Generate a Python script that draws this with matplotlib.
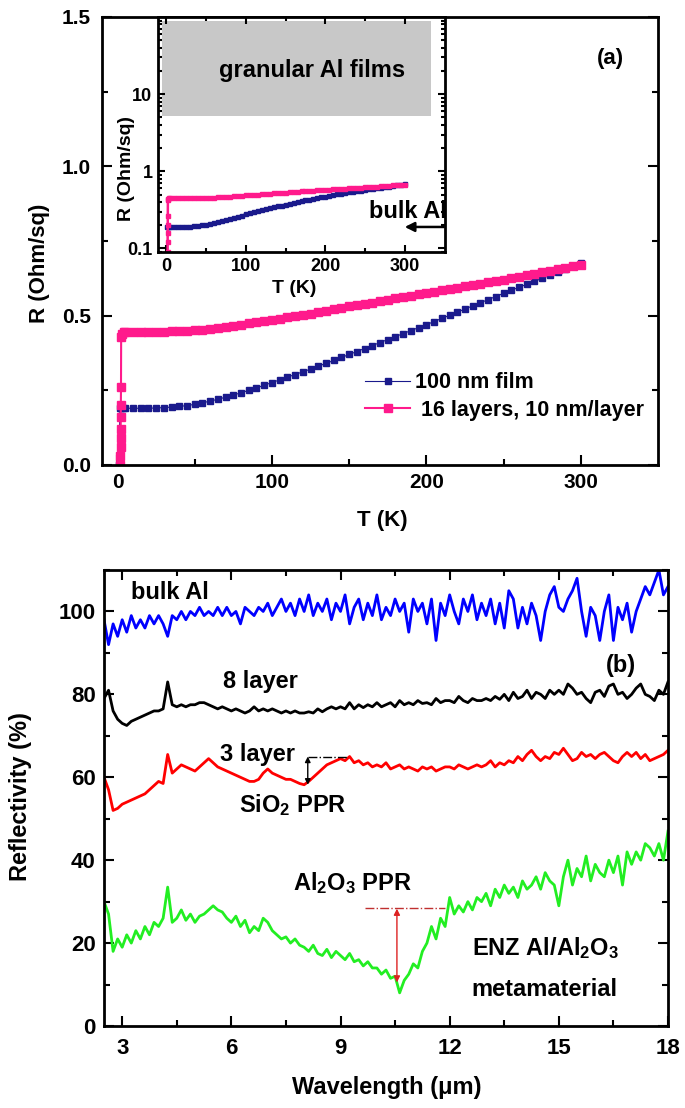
import matplotlib
matplotlib.use("Agg")
import matplotlib.pyplot as plt
from matplotlib.patches import Rectangle
from matplotlib.ticker import MultipleLocator, LogLocator, NullFormatter, FixedLocator

plt.rcParams['font.family'] = ['Liberation Sans', 'DejaVu Sans']
plt.rcParams['font.weight'] = 'bold'
plt.rcParams['mathtext.fontset'] = 'custom'
plt.rcParams['mathtext.rm'] = 'Liberation Sans:bold'
plt.rcParams['mathtext.it'] = 'Liberation Sans:bold'
plt.rcParams['mathtext.bf'] = 'Liberation Sans:bold'
plt.rcParams['mathtext.default'] = 'rm'

# ---------------- panel (a) data ----------------
T_film = [1.0, 1.6, 2.5, 3.5,
          5, 10, 15, 20, 25, 30, 35, 40, 45, 50, 55, 60, 65, 70, 75, 80, 85, 90, 95, 100,
          105, 110, 115, 120, 125, 130, 135, 140, 145, 150, 155, 160, 165, 170, 175, 180,
          185, 190, 195, 200, 205, 210, 215, 220, 225, 230, 235, 240, 245, 250, 255, 260,
          265, 270, 275, 280, 285, 290, 295, 300]
R_film = [0.0, 0.19, 0.19, 0.19,
          0.190, 0.190, 0.190, 0.190, 0.191, 0.192, 0.194, 0.196, 0.199, 0.203, 0.208, 0.214,
          0.220, 0.227, 0.234, 0.242, 0.250, 0.258, 0.267, 0.276, 0.285, 0.294, 0.303, 0.312,
          0.321, 0.331, 0.340, 0.350, 0.360, 0.370, 0.380, 0.390, 0.400, 0.410, 0.420, 0.430,
          0.440, 0.450, 0.460, 0.470, 0.480, 0.491, 0.501, 0.512, 0.522, 0.533, 0.543, 0.554,
          0.564, 0.575, 0.585, 0.595, 0.605, 0.615, 0.625, 0.635, 0.645, 0.655, 0.665, 0.675]

T_ml = [1.9, 1.95, 2.0, 2.05, 2.1, 2.15, 2.2, 2.3, 2.4, 3.0, 4.0,
        5, 10, 15, 20, 25, 30, 35, 40, 45, 50, 55, 60, 65, 70, 75, 80, 85, 90, 95, 100,
        105, 110, 115, 120, 125, 130, 135, 140, 145, 150, 155, 160, 165, 170, 175, 180,
        185, 190, 195, 200, 205, 210, 215, 220, 225, 230, 235, 240, 245, 250, 255, 260,
        265, 270, 275, 280, 285, 290, 295, 300]
R_ml = [0.0, 0.03, 0.06, 0.09, 0.12, 0.16, 0.20, 0.26, 0.43, 0.44, 0.445,
        0.445, 0.445, 0.445, 0.445, 0.445, 0.445, 0.447, 0.448, 0.449, 0.451, 0.453, 0.456,
        0.459, 0.462, 0.466, 0.470, 0.474, 0.478, 0.482, 0.486, 0.490, 0.494, 0.498, 0.502,
        0.507, 0.511, 0.516, 0.521, 0.526, 0.531, 0.535, 0.540, 0.544, 0.549, 0.553, 0.558,
        0.562, 0.567, 0.571, 0.576, 0.580, 0.585, 0.589, 0.594, 0.598, 0.603, 0.607, 0.612,
        0.616, 0.621, 0.626, 0.630, 0.635, 0.640, 0.645, 0.650, 0.655, 0.660, 0.665, 0.670]

label_film = "100 nm film"
label_ml = " 16 layers, 10 nm/layer"

# ---------------- panel (b) data ----------------
wavelength = [2.5, 2.625, 2.75, 2.875,
    3.0, 3.125, 3.25, 3.375, 3.5, 3.625, 3.75, 3.875,
    4.0, 4.125, 4.25, 4.375, 4.5, 4.625, 4.75, 4.875,
    5.0, 5.125, 5.25, 5.375, 5.5, 5.625, 5.75, 5.875,
    6.0, 6.125, 6.25, 6.375, 6.5, 6.625, 6.75, 6.875,
    7.0, 7.125, 7.25, 7.375, 7.5, 7.625, 7.75, 7.875,
    8.0, 8.125, 8.25, 8.375, 8.5, 8.625, 8.75, 8.875,
    9.0, 9.125, 9.25, 9.375, 9.5, 9.625, 9.75, 9.875,
    10.0, 10.125, 10.25, 10.375, 10.5, 10.625, 10.75, 10.875,
    11.0, 11.125, 11.25, 11.375, 11.5, 11.625, 11.75, 11.875,
    12.0, 12.125, 12.25, 12.375, 12.5, 12.625, 12.75, 12.875,
    13.0, 13.125, 13.25, 13.375, 13.5, 13.625, 13.75, 13.875,
    14.0, 14.125, 14.25, 14.375, 14.5, 14.625, 14.75, 14.875,
    15.0, 15.125, 15.25, 15.375, 15.5, 15.625, 15.75, 15.875,
    16.0, 16.125, 16.25, 16.375, 16.5, 16.625, 16.75, 16.875,
    17.0, 17.125, 17.25, 17.375, 17.5, 17.625, 17.75, 17.875,
    18.0]

refl_bulk = [98, 92, 97, 94,
    98, 95, 99, 96, 98, 96, 99, 97,
    99, 97, 94, 99, 98, 100, 98, 100,
    99, 101, 99, 100, 99, 101, 99, 101,
    99, 100, 97, 101, 100, 99, 101, 100,
    102, 99, 101, 103, 100, 102, 99, 103,
    100, 104, 99, 102, 100, 103, 98, 102,
    100, 104, 97, 101, 103, 98, 102, 99,
    104, 98, 101, 99, 103, 100, 102, 95,
    103, 100, 102, 97, 103, 93, 102, 99,
    104, 100, 97, 103, 100, 104, 98, 102,
    99, 103, 97, 102, 96, 105, 103, 96,
    101, 97, 102, 99, 93, 100, 104, 106,
    101, 100, 103, 105, 108, 100, 94, 101,
    99, 93, 100, 104, 93, 101, 98, 102,
    95, 100, 103, 106, 104, 107, 110, 104,
    106]

refl_8layer = [79, 81, 76, 74,
    73, 72.5, 73.5, 74, 74.5, 75, 75.5, 76,
    76, 76.5, 83, 77.5, 77, 77.5, 77, 77.5,
    77.5, 78, 78, 77.5, 77, 76.5, 77, 76.5,
    76, 76.5, 76, 75.5, 76, 77, 76, 76.5,
    76, 76.5, 76, 75.5, 76, 75.5, 76, 75.5,
    75.5, 75.8, 75.5, 76.5, 75.8, 76.5, 77, 76.5,
    77, 76.5, 78, 76.5, 77.5, 76.8, 77.5, 77,
    78, 77, 77.5, 78, 77, 78.5, 77.5, 78,
    77.5, 78.5, 77.8, 78, 77.5, 79, 78, 78.5,
    78.5, 78, 79.5, 78.5, 78, 79, 78.5, 78.5,
    79, 78.5, 79.5, 78.8, 80, 78.5, 80.5, 79,
    79.5, 81, 79, 80.5, 80, 79, 81, 80,
    81, 80, 82.5, 81.5, 80, 80.5, 79, 78,
    80.5, 81, 79.5, 82, 82.5, 80, 80.5, 79,
    80, 81.5, 82.5, 80, 79.5, 78.5, 81, 80,
    83]

refl_3layer = [60, 57, 52, 52.5,
    53.5, 54, 54.5, 55, 55.5, 56, 57, 58,
    59, 58.5, 65.5, 61, 62, 63, 62.5, 62,
    61.5, 62.5, 63.5, 64.5, 63.5, 62.5, 62, 61.5,
    61, 60.5, 60, 59.5, 59, 59, 59.5, 61,
    62, 61, 60.5, 60, 59.5, 59.5, 59, 58.5,
    58.2, 59, 60, 61, 62, 63, 63.5, 64,
    64.5, 64, 65, 63.5, 64, 63, 63.5, 62.5,
    63, 62.5, 63.5, 62, 62.5, 63, 62, 62.5,
    62, 61.5, 62.5, 62, 62.5, 61.5, 62, 62.5,
    62.5, 62, 63, 62.5, 62, 62.5, 63, 62.5,
    63, 64, 62.5, 63.5, 63, 64, 63.5, 65,
    64, 65.5, 66.5, 65, 64, 65, 64.5, 66,
    65.5, 67, 65.5, 64, 64.5, 66, 65, 65.5,
    64.5, 65.5, 66, 65, 64, 63.5, 65, 66,
    65, 66, 64.5, 65.5, 64, 64.5, 65, 65.5,
    66.5]

refl_enz = [30, 27, 18, 21,
    19, 22, 20, 23, 21, 24, 22, 25,
    24, 26, 33.5, 25, 26, 28, 25.5, 27,
    25, 26.5, 27, 28, 29, 28, 27.5, 26,
    25, 26.5, 24, 25.5, 22.5, 24, 23, 26,
    25, 23, 22, 21, 21.5, 20, 21, 19.5,
    19, 18, 19.5, 17.5, 17, 18.5, 16.5, 18,
    17, 16, 17.5, 15.5, 16, 14.5, 15.5, 14,
    14, 12.5, 13.5, 11.5, 12, 8, 11, 12.5,
    15, 14, 18, 20, 24, 21, 26, 24,
    31, 27, 29, 27.5, 30, 28, 31, 30,
    32, 29, 33, 31, 34, 32, 33.5, 31,
    35, 33, 34, 36, 33, 37, 35, 34,
    29, 36, 40, 34, 38, 36, 41, 35,
    39, 37, 36, 40, 37, 41, 34, 42,
    39, 42, 40, 44, 43, 41, 44, 40,
    47]

# ---------------- figure ----------------
W, H = 685, 1108
fig = plt.figure(figsize=(W / 100, H / 100), dpi=100)

def rect(l, r, t, b):
    return [l / W, 1 - b / H, (r - l) / W, (b - t) / H]

navy = '#1a1a8c'
pink = '#ff1a8c'

def style_axes(ax, labelsize, top=False, right=True):
    for s in ax.spines.values():
        s.set_linewidth(2)
    ax.tick_params(which='both', direction='in', width=1.5, top=top, right=right,
                   labelsize=labelsize)
    ax.tick_params(which='major', length=7)
    ax.tick_params(which='minor', length=4)
    for lab in ax.get_xticklabels() + ax.get_yticklabels():
        lab.set_fontweight('bold')

# ---- panel (a) main ----
axa = fig.add_axes(rect(102, 658, 17, 465))
axa.plot(T_film, R_film, color=navy, lw=0.8, marker='s', ms=4.5, mec=navy, mfc=navy,
         label=label_film)
axa.plot(T_ml, R_ml, color=pink, lw=1.5, marker='s', ms=5.5, mec=pink, mfc=pink,
         label=label_ml)
axa.set_xlim(-10, 350)
axa.set_ylim(0, 1.5)
axa.xaxis.set_major_locator(FixedLocator([0, 100, 200, 300]))
axa.xaxis.set_minor_locator(FixedLocator([50, 150, 250]))
axa.yaxis.set_major_locator(MultipleLocator(0.5))
axa.yaxis.set_minor_locator(MultipleLocator(0.25))
axa.yaxis.set_major_formatter(matplotlib.ticker.FormatStrFormatter('%.1f'))
style_axes(axa, 15)
axa.tick_params(axis='y', pad=8)
axa.tick_params(axis='x', pad=6)
axa.set_xlabel('T (K)', fontsize=16, fontweight='bold')
axa.xaxis.set_label_coords(0.504, -0.1)
axa.set_ylabel('R (Ohm/sq)', fontsize=16, fontweight='bold')
axa.yaxis.set_label_coords(-0.0935, 0.451)
axa.text(319, 1.36, '(a)', fontsize=16, fontweight='bold', ha='center', va='center')
leg = axa.legend(loc='upper left', bbox_to_anchor=(0.473, 0.207), frameon=False,
                 prop={'size': 15.5, 'weight': 'bold'}, borderpad=0, borderaxespad=0,
                 handlelength=2.1, handletextpad=0.2, labelspacing=0.3, markerscale=1.0)

# ---- panel (a) inset ----
axi = fig.add_axes(rect(158, 445, 17, 252))
axi.add_patch(Rectangle((-5, 5.2), 337, 89 - 5.2, facecolor='#c8c8c8', edgecolor='none',
                        zorder=0))
axi.plot(T_film, R_film, color=navy, lw=1.8, marker='s', ms=2.5, mec=navy, mfc=navy)
axi.plot(T_ml, R_ml, color=pink, lw=1.8, marker='s', ms=2.5, mec=pink, mfc=pink)
axi.set_yscale('log', nonpositive='mask')
axi.set_xlim(-10, 350)
axi.set_ylim(0.09, 100)
axi.xaxis.set_major_locator(FixedLocator([0, 100, 200, 300]))
axi.xaxis.set_minor_locator(FixedLocator([50, 150, 250]))
axi.yaxis.set_major_locator(FixedLocator([0.1, 1, 10]))
axi.yaxis.set_major_formatter(matplotlib.ticker.FixedFormatter(['0.1', '1', '10']))
axi.yaxis.set_minor_locator(LogLocator(base=10, subs=range(2, 10)))
axi.yaxis.set_minor_formatter(NullFormatter())
style_axes(axi, 13, top=True, right=True)
axi.tick_params(which='major', length=5)
axi.tick_params(which='minor', length=3)
axi.tick_params(axis='y', pad=4)
axi.tick_params(axis='x', pad=4)
axi.set_xlabel('T (K)', fontsize=14, fontweight='bold')
axi.xaxis.set_label_coords(0.474, -0.12)
axi.set_ylabel('R (Ohm/sq)', fontsize=14, fontweight='bold')
axi.yaxis.set_label_coords(-0.08, 0.357)
axi.text(183, 20.5, 'granular Al films', fontsize=17, fontweight='bold',
         ha='center', va='center')
axi.text(255, 0.30, 'bulk Al', fontsize=17, fontweight='bold', ha='left', va='center',
         clip_on=True)
axi.annotate('', xy=(296, 0.19), xytext=(352, 0.19),
             arrowprops=dict(arrowstyle='-|>', color='black', lw=1.8, mutation_scale=14),
             annotation_clip=False)

# ---- panel (b) ----
axb = fig.add_axes(rect(104, 668, 570, 1026))
axb.plot(wavelength, refl_bulk, color='#0000ff', lw=2.0)
axb.plot(wavelength, refl_8layer, color='black', lw=2.0)
axb.plot(wavelength, refl_3layer, color='#ff0000', lw=2.0)
axb.plot(wavelength, refl_enz, color='#22ee22', lw=2.0)
axb.set_xlim(2.5, 18)
axb.set_ylim(0, 110)
axb.xaxis.set_major_locator(FixedLocator([3, 6, 9, 12, 15, 18]))
axb.xaxis.set_minor_locator(FixedLocator([4.5, 7.5, 10.5, 13.5, 16.5]))
axb.yaxis.set_major_locator(MultipleLocator(20))
axb.yaxis.set_minor_locator(MultipleLocator(10))
style_axes(axb, 16, top=True, right=True)
axb.tick_params(axis='y', pad=6)
axb.tick_params(axis='x', pad=9)
axb.set_xlabel('Wavelength (\u03bcm)', fontsize=17, fontweight='bold')
axb.xaxis.set_label_coords(0.502, -0.11)
axb.set_ylabel('Reflectivity (%)', fontsize=17, fontweight='bold')
axb.yaxis.set_label_coords(-0.128, 0.504)

tk = dict(fontsize=17, fontweight='bold', va='center', ha='left')
axb.text(3.24, 104.5, 'bulk Al', **tk)
axb.text(5.77, 83, '8 layer', **tk)
axb.text(5.69, 65.6, '3 layer', **tk)
axb.text(6.2, 53.3, 'SiO$_2$ PPR', **tk)
axb.text(7.7, 34.5, 'Al$_2$O$_3$ PPR', **tk)
axb.text(12.6, 18.8, 'ENZ Al/Al$_2$O$_3$', **tk)
axb.text(12.6, 8.7, 'metamaterial', **tk)
axb.text(16.7, 87, '(b)', fontsize=17, fontweight='bold', ha='center', va='center')

# SiO2 PPR marker
axb.plot([8.1, 9.2], [65, 65], color='black', lw=1.0, ls='-.')
axb.annotate('', xy=(8.1, 58.2), xytext=(8.1, 65),
             arrowprops=dict(arrowstyle='<|-|>', color='black', lw=1.0, mutation_scale=8,
                             shrinkA=0, shrinkB=0))
# Al2O3 PPR marker
axb.plot([9.67, 11.87], [28.5, 28.5], color='#c03030', lw=1.0, ls='-.')
axb.annotate('', xy=(10.55, 10.5), xytext=(10.55, 28.3),
             arrowprops=dict(arrowstyle='<|-|>', color='#dd2222', lw=1.0, mutation_scale=9,
                             shrinkA=0, shrinkB=0))

fig.savefig('out.png', dpi=100)
